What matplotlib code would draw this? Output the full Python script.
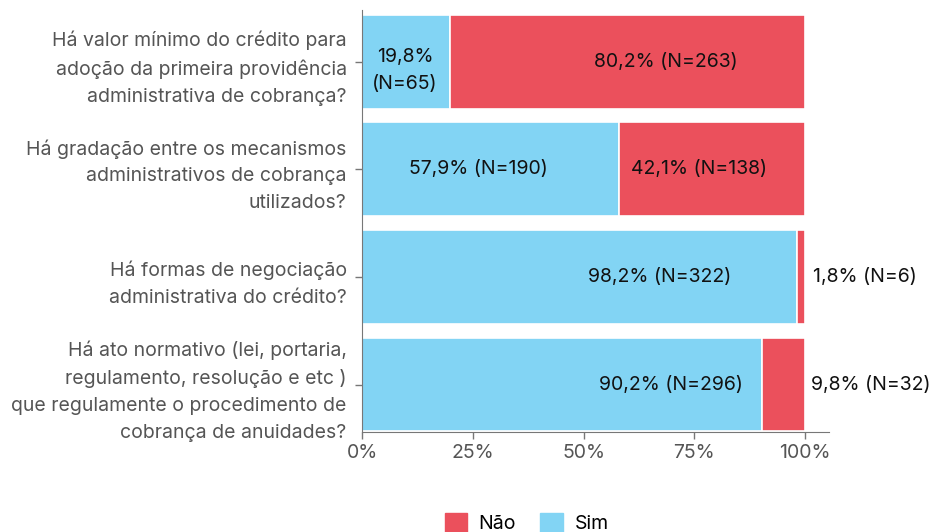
import matplotlib
matplotlib.use('agg')
import matplotlib.pyplot as plt
from matplotlib.patches import Patch

# data, bottom to top
perguntas = [
    'Há ato normativo (lei, portaria,\nregulamento, resolução e etc )\nque regulamente o procedimento de\ncobrança de anuidades?',
    'Há formas de negociação\nadministrativa do crédito?',
    'Há gradação entre os mecanismos\nadministrativos de cobrança\nutilizados?',
    'Há valor mínimo do crédito para\nadoção da primeira providência\nadministrativa de cobrança?',
]
sim_pct = [90.2, 98.2, 57.9, 19.8]
nao_pct = [9.8, 1.8, 42.1, 80.2]
sim_n = [296, 322, 190, 65]
nao_n = [32, 6, 138, 263]

# where the value labels sit (fraction of the axis) and how they are aligned
sim_lbl_x = [0.698, 0.672, 0.262, 0.097]
sim_lbl_dy = [0, 0, 0, -0.085]
nao_lbl_x = [1.014, 1.018, 0.761, 0.686]
nao_lbl_ha = ['left', 'left', 'center', 'center']

AZUL = '#82d4f4'
VERMELHO = '#eb505c'
CINZA = '#555555'
FS = 14

plt.rcParams['font.family'] = ['Inter', 'DejaVu Sans']

fig = plt.figure(figsize=(9.32, 5.32), dpi=100)
ax = fig.add_axes([362 / 932, 1 - 432 / 532, 467 / 932, 422 / 532])

y = range(len(perguntas))
sim = [v / 100 for v in sim_pct]
nao = [v / 100 for v in nao_pct]
ax.barh(y, sim, height=0.87, color=AZUL, edgecolor='white', linewidth=1.2)
ax.barh(y, nao, left=sim, height=0.87, color=VERMELHO, edgecolor='white', linewidth=1.2)

def fmt(p, n, quebra=False):
    s = ('%.1f' % p).replace('.', ',') + '%'
    return s + ('\n' if quebra else ' ') + '(N=%d)' % n

for i in y:
    ax.text(sim_lbl_x[i], i + sim_lbl_dy[i], fmt(sim_pct[i], sim_n[i], sim_pct[i] < 25),
            ha='center', va='center', fontsize=FS, color='#111111', linespacing=1.65)
    ax.text(nao_lbl_x[i], i, fmt(nao_pct[i], nao_n[i]),
            ha=nao_lbl_ha[i], va='center', fontsize=FS, color='#111111')

ax.set_xlim(0, 1.054)
ax.set_ylim(-0.44, 3.48)
ax.set_yticks(list(y))
ax.set_yticklabels(perguntas, fontsize=FS, color=CINZA, linespacing=1.63)
ax.set_xticks([0, 0.25, 0.5, 0.75, 1.0])
ax.set_xticklabels(['0%', '25%', '50%', '75%', '100%'], fontsize=FS, color=CINZA)
ax.tick_params(axis='both', colors='#777777', labelcolor=CINZA, length=5, width=1)
ax.tick_params(axis='y', pad=6)
for lado in ['top', 'right']:
    ax.spines[lado].set_visible(False)
for lado in ['left', 'bottom']:
    ax.spines[lado].set_color('#777777')

handles = [Patch(color=VERMELHO, label='Não'), Patch(color=AZUL, label='Sim')]
fig.legend(handles=handles, loc='upper center', bbox_to_anchor=(0.565, 1 - 503 / 532),
           ncol=2, frameon=False, fontsize=FS, handlelength=1.15, handleheight=1.15,
           handletextpad=0.6, columnspacing=1.25, borderpad=0)

fig.savefig('out.png', dpi=100)
